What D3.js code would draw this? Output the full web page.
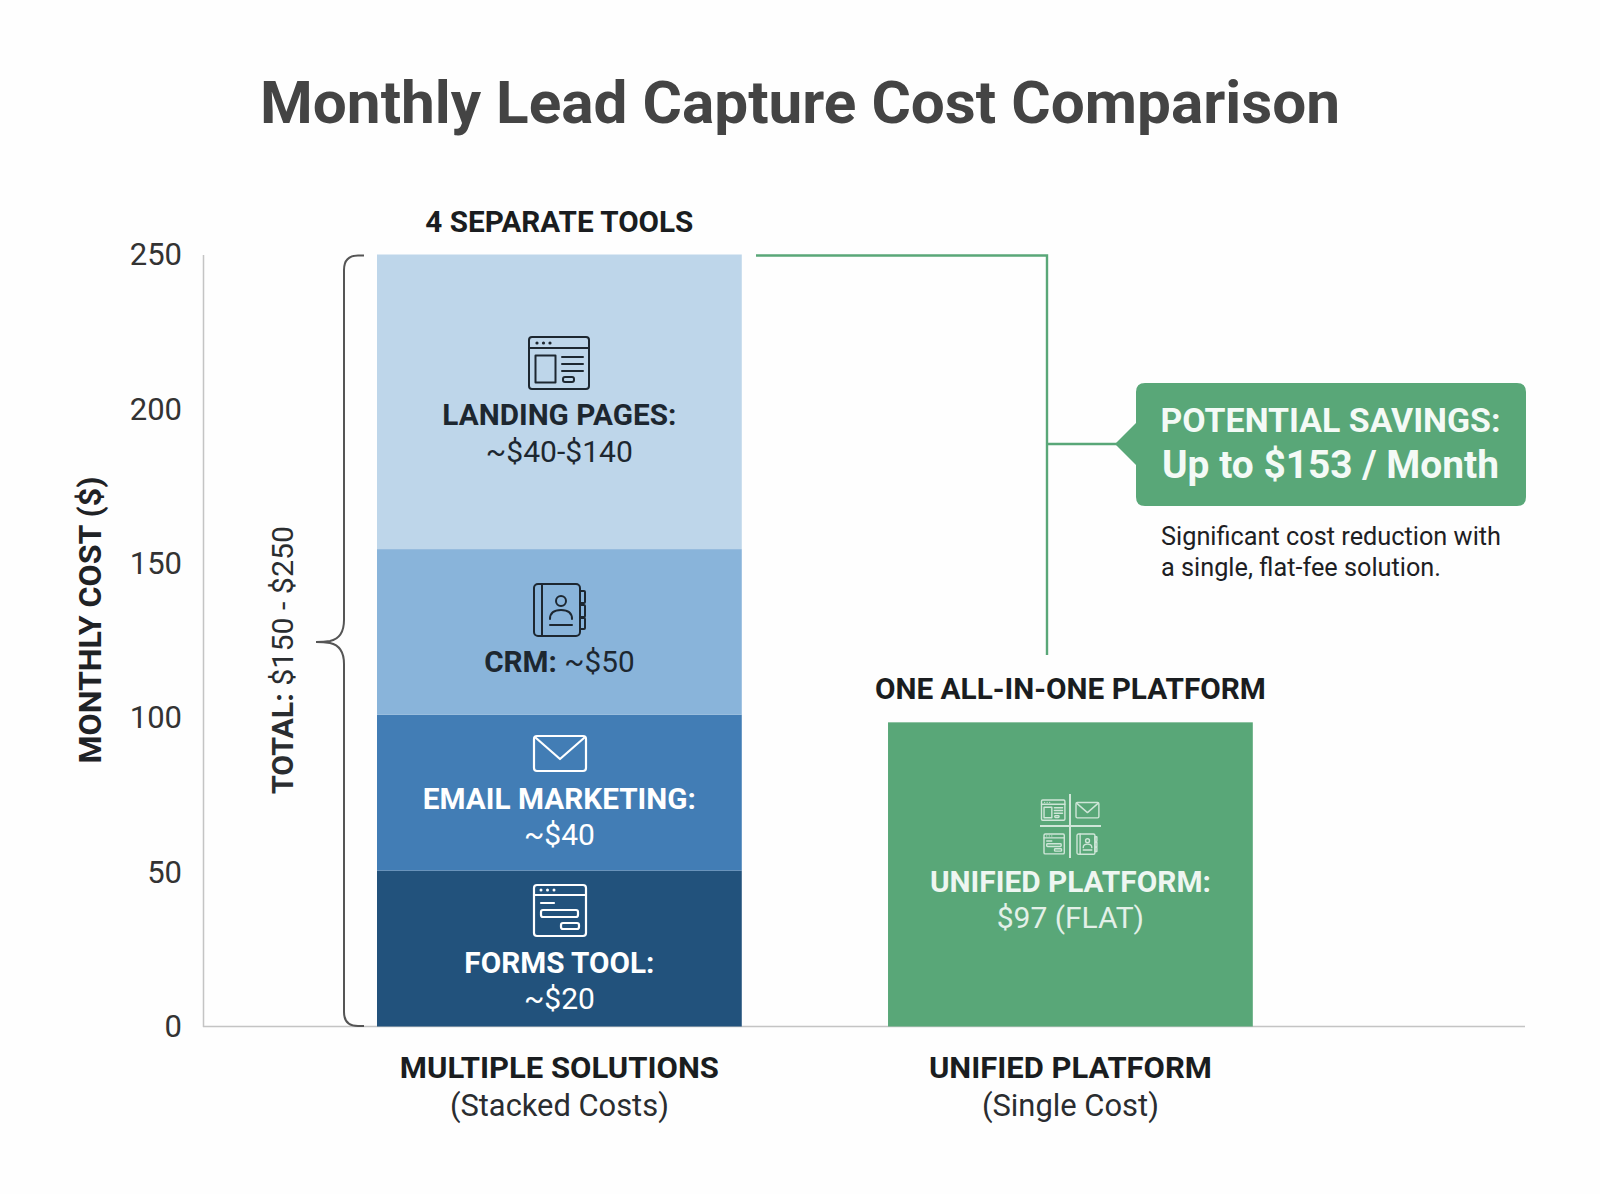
<!DOCTYPE html>
<html><head><meta charset="utf-8">
<script src="https://cdn.jsdelivr.net/npm/d3@7/dist/d3.min.js"></script>
<style>html,body{margin:0;padding:0;background:#fefefe}svg{display:block}text{font-family:Roboto,sans-serif}</style>
</head><body><svg id="c" width="1600" height="1194"></svg>
<script>
const categories = ["MULTIPLE SOLUTIONS", "UNIFIED PLATFORM"];
const categorySubs = ["(Stacked Costs)", "(Single Cost)"];
const stackNames = ["FORMS TOOL:", "EMAIL MARKETING:", "CRM:", "LANDING PAGES:"];
const stackValues = [50.5, 50.5, 53.6, 95.4];
const stackLabels = ["~$20", "~$40", "~$50", "~$40-$140"];
const stackColors = ["#22527c", "#427db5", "#89b4da", "#bed6ea"];
const unifiedValue = 98.5;
const yTicks = [0, 50, 100, 150, 200, 250];
const GREEN = "#59a778";

const svg = d3.select("#c");
const y = d3.scaleLinear().domain([0, 250]).range([1026.5, 254.5]);
const x = d3.scaleBand().domain(categories).range([377, 1252.8]).paddingInner(0.2862).paddingOuter(0);
const cx = c => x(c) + x.bandwidth() / 2;

function txt(s, px, py, size, weight, fill, anchor, len) {
  const t = svg.append("text").attr("x", px).attr("y", py).attr("font-size", size)
    .attr("font-weight", weight).attr("fill", fill).attr("text-anchor", anchor || "middle").text(s);
  if (len) t.attr("textLength", len).attr("lengthAdjust", "spacingAndGlyphs");
  return t;
}

txt("Monthly Lead Capture Cost Comparison", 800, 123, 60, 700, "#444444", "middle", 1080);

// axes
const yAxis = svg.append("g").attr("transform", "translate(203,0)")
  .call(d3.axisLeft(y).tickValues(yTicks).tickSize(0).tickPadding(21));
yAxis.select(".domain").attr("stroke", "#c4c4c4").attr("stroke-width", 1.5);
yAxis.selectAll("text").attr("font-size", 31).attr("fill", "#333").attr("dy", "0.33em").style("font-family", "Roboto,sans-serif");
svg.append("line").attr("x1", 203).attr("x2", 1525).attr("y1", y(0)).attr("y2", y(0))
  .attr("stroke", "#c4c4c4").attr("stroke-width", 1.5);

txt("MONTHLY COST ($)", 0, 0, 31, 700, "#1f2225", "middle", 287)
  .attr("transform", "translate(101,620) rotate(-90)");

// stacked bar
const stack = d3.stack().keys(stackNames)([Object.fromEntries(stackNames.map((n, i) => [n, stackValues[i]]))]);
svg.append("g").selectAll("rect").data(stack).join("rect")
  .attr("x", x(categories[0])).attr("width", x.bandwidth())
  .attr("y", d => y(d[0][1])).attr("height", d => y(d[0][0]) - y(d[0][1]))
  .attr("fill", (d, i) => stackColors[i]);
svg.append("rect").attr("x", x(categories[1])).attr("width", x.bandwidth())
  .attr("y", y(unifiedValue)).attr("height", y(0) - y(unifiedValue)).attr("fill", GREEN);

// segment labels
const c0 = cx(categories[0]), c1 = cx(categories[1]);
txt("LANDING PAGES:", c0, 425, 29, 700, "#1d2730", "middle", 234);
txt(stackLabels[3], c0, 462, 30, 400, "#1d2730", "middle", 147);
svg.append("text").attr("x", c0).attr("y", 672).attr("text-anchor", "middle").attr("font-size", 29.7).attr("fill", "#1d2730")
  .call(t => { t.append("tspan").attr("font-weight", 700).text("CRM: "); t.append("tspan").text(stackLabels[2]); });
txt("EMAIL MARKETING:", c0, 809, 29, 700, "#fff", "middle", 273);
txt(stackLabels[1], c0, 845, 30, 400, "#fff");
txt("FORMS TOOL:", c0, 973, 29, 700, "#fff", "middle", 190);
txt(stackLabels[0], c0, 1009, 30, 400, "#fff");
txt("UNIFIED PLATFORM:", c1, 892, 29, 700, "#eef6f1", "middle", 281);
txt("$97 (FLAT)", c1, 928, 30, 400, "#e3f0e8");

// headers & category labels
txt("4 SEPARATE TOOLS", c0, 232, 29, 700, "#1a1d20", "middle", 268);
txt("ONE ALL-IN-ONE PLATFORM", c1, 699, 29, 700, "#1a1d20", "middle", 391);
categories.forEach((c, i) => {
  txt(c, cx(c), 1078, 30, 700, "#1a1d20", "middle", i ? 283 : 319);
  txt(categorySubs[i], cx(c), 1116, 31, 400, "#2a2d30", "middle", i ? 177 : 219);
});

// brace
svg.append("path").attr("fill", "none").attr("stroke", "#555").attr("stroke-width", 2)
  .attr("d", "M364,255.5 H358 Q344,255.5 344,270 V620 Q344,638 330,641 Q324,642 316,642 M316,642 Q324,642 330,643 Q344,646 344,664 V1012 Q344,1026 358,1026 H364");
txt("TOTAL: $150 - $250", 0, 0, 29, 400, "#2a2d30", "middle", 268)
  .attr("transform", "translate(293,660) rotate(-90)")
  .call(t => { t.text(null).attr("textLength", 268);
    t.append("tspan").attr("font-weight", 700).text("TOTAL: "); t.append("tspan").text("$150 - $250"); });

// connector
svg.append("path").attr("fill", "none").attr("stroke", GREEN).attr("stroke-width", 2.4)
  .attr("d", "M756,255.5 H1047 V655 M1047,444 H1118");

// callout
svg.append("path").attr("fill", GREEN)
  .attr("d", "M1145,383 H1517 Q1526,383 1526,392 V497 Q1526,506 1517,506 H1145 Q1136,506 1136,497 V465 L1115,444 L1136,423 V392 Q1136,383 1145,383 Z");
txt("POTENTIAL SAVINGS:", 1330.5, 432, 33, 700, "#f4faf6", "middle", 340);
txt("Up to $153 / Month", 1330.5, 478, 38, 700, "#f4faf6", "middle", 337);
txt("Significant cost reduction with", 1161, 545, 26, 400, "#1d2023", "start", 340);
txt("a single, flat-fee solution.", 1161, 576, 26, 400, "#1d2023", "start", 280);

// icons
function icon(drawFn, tx, ty, s, col, sw) {
  const g = svg.append("g").attr("transform", `translate(${tx},${ty}) scale(${s})`)
    .attr("fill", "none").attr("stroke", col).attr("stroke-width", sw / s).attr("stroke-linejoin", "round").attr("stroke-linecap", "round");
  drawFn(g, col);
}
const rr = (g, a, b, w, h, r) => g.append("rect").attr("x", a).attr("y", b).attr("width", w).attr("height", h).attr("rx", r || 0);
const ln = (g, d) => g.append("path").attr("d", d);
const dots = (g, col, a, b, gap, r) => [0, 1, 2].forEach(i => g.append("circle").attr("cx", a + i * gap).attr("cy", b).attr("r", r).attr("fill", col).attr("stroke", "none"));

function landing(g, col) {
  rr(g, 0, 0, 60, 52, 3); ln(g, "M0,11 H60"); dots(g, col, 8, 6, 6.5, 1.6);
  rr(g, 6.5, 18.5, 20, 27, 0); ln(g, "M33,20 H54 M33,27 H54 M33,34 H54"); rr(g, 34, 40, 11, 5, 2);
}
function crm(g) {
  rr(g, 0, 0, 46, 52, 4); ln(g, "M8,0 V52");
  rr(g, 46, 7, 5, 12, 1); rr(g, 46, 21, 5, 12, 1); rr(g, 46, 34, 5, 11, 1);
  g.append("circle").attr("cx", 27).attr("cy", 17).attr("r", 5);
  ln(g, "M16,35 C16,27 22,26 27,26 C32,26 38,27 38,35 M16,41 H38");
}
function mail(g) {
  rr(g, 0, 0, 52, 35, 3); ln(g, "M2,2 L26,23 L50,2");
}
function forms(g, col) {
  rr(g, 0, 0, 52, 51, 3); ln(g, "M0,10 H52"); dots(g, col, 7, 5, 6.5, 1.5);
  ln(g, "M7,18 H20"); rr(g, 7, 25, 37, 7, 2); rr(g, 27, 38, 18, 6, 2);
}
icon(landing, 529, 337, 1, "#1d2730", 2);
icon(crm, 534, 584, 1, "#1d2730", 2);
icon(mail, 534, 736, 1, "#fff", 2.2);
icon(forms, 534, 885, 1, "#fff", 2.2);

// unified icon
svg.append("path").attr("fill", "none").attr("stroke", "#cfe6d8").attr("stroke-width", 2)
  .attr("d", "M1070,794 V858 M1040,826 H1101");
icon(landing, 1041.5, 800, 0.39, "#cfe6d8", 1.4);
icon(mail, 1076, 802.5, 0.44, "#cfe6d8", 1.4);
icon(forms, 1044, 834, 0.39, "#cfe6d8", 1.4);
icon(crm, 1077, 834, 0.39, "#cfe6d8", 1.4);
</script></body></html>
